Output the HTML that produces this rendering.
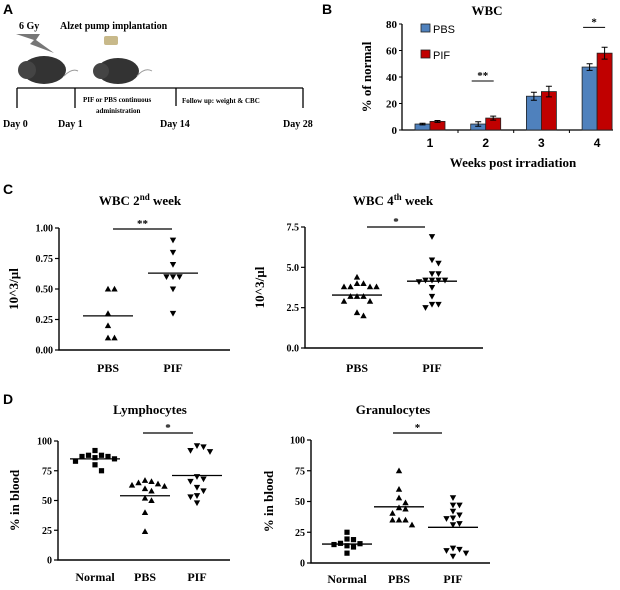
<!DOCTYPE html>
<html><head><meta charset="utf-8"><style>
body{margin:0;background:#fff}
svg{display:block}
.t{font-family:"Liberation Serif",serif;font-weight:bold;fill:#000}
.s{font-family:"Liberation Sans",sans-serif;fill:#000}
</style></head><body>
<svg id="fig" width="620" height="590" viewBox="0 0 620 590" xmlns="http://www.w3.org/2000/svg">
<g>
<text x="3" y="14" class="s" font-size="14" font-weight="bold">A</text>
<text x="19" y="29" class="t" font-size="10">6 Gy</text>
<polygon points="16,34 40,34 36,40 54,53 30,44 34,40" fill="#777"/>
<g><ellipse cx="44" cy="70" rx="22" ry="14" fill="#333"/><ellipse cx="27" cy="70" rx="9" ry="9" fill="#444"/><path d="M64 76 Q72 68 78 71" stroke="#999" fill="none"/></g>
<text x="60" y="29" class="t" font-size="10">Alzet pump implantation</text>
<rect x="104" y="36" width="14" height="9" rx="2" fill="#c8b98a"/>
<g><ellipse cx="118" cy="71" rx="21" ry="13" fill="#333"/><ellipse cx="101" cy="71" rx="8" ry="8" fill="#444"/><path d="M137 76 Q145 67 152 71" stroke="#999" fill="none"/></g>
<g stroke="#000" stroke-width="1.3" fill="none">
<line x1="17" y1="88" x2="303" y2="88"/><line x1="17" y1="88" x2="17" y2="108"/><line x1="75" y1="88" x2="75" y2="108"/><line x1="176" y1="88" x2="176" y2="106"/><line x1="303" y1="88" x2="303" y2="108"/></g>
<text x="83" y="102" class="t" font-size="7">PIF or PBS continuous</text>
<text x="96" y="113" class="t" font-size="7">administration</text>
<text x="182" y="103" class="t" font-size="7">Follow up: weight &amp; CBC</text>
<text x="3" y="127" class="t" font-size="10">Day 0</text>
<text x="58" y="127" class="t" font-size="10">Day 1</text>
<text x="160" y="127" class="t" font-size="10">Day 14</text>
<text x="283" y="127" class="t" font-size="10">Day 28</text>
</g>
<text x="322" y="14" class="s" font-size="14" font-weight="bold">B</text>
<text x="3" y="194" class="s" font-size="14" font-weight="bold">C</text>
<text x="3" y="404" class="s" font-size="14" font-weight="bold">D</text>
</svg>
<script>
const NS="http://www.w3.org/2000/svg";
const svg=document.getElementById('fig');
function mk(tag,attrs,parent,txt){const e=document.createElementNS(NS,tag);for(const k in attrs)e.setAttribute(k,attrs[k]);if(txt!==undefined)e.textContent=txt;(parent||svg).appendChild(e);return e;}

// ---- Panel B data ----
const bWeeks=["1","2","3","4"];
const bPBS=[4.5,4.5,25.5,47.5];
const bPIF=[6.5,9,29,58];
const bPBSerr=[0.6,1.7,3,2.5];
const bPIFerr=[0.7,1.5,4,4.5];
const bTicks=[0,20,40,60,80];
const bSig=[{w:1,t:"**",y:37},{w:3,t:"*",y:77.5}];

// ---- Panel C data ----
const c1Groups=["PBS","PIF"];
const c1PBS=[0.5,0.5,0.3,0.2,0.1,0.1];
const c1PIF=[0.9,0.8,0.7,0.6,0.6,0.6,0.5,0.3];
const c1Means=[0.28,0.63];
const c1Ticks=["0.00","0.25","0.50","0.75","1.00"];
const c2PBS=[4.4,4.0,4.0,3.8,3.8,3.8,3.8,3.2,3.2,3.2,2.9,2.9,2.2,2.0];
const c2PIF=[6.9,5.45,5.25,4.6,4.6,4.2,4.2,4.2,4.2,4.1,3.75,3.2,2.7,2.7,2.5];
const c2Means=[3.28,4.14];
const c2Ticks=["0.0","2.5","5.0","7.5"];

// ---- Panel D data ----
const dGroups=["Normal","PBS","PIF"];
const dLymN=[92,88,88,87,87,86,85,83,80,75];
const dLymP=[67,66,65,64,63,62,60,58,52,50,40,24];
const dLymF=[96,95,92,91,70,68,66,61,58,54,53,48];
const dLymMeans=[85,54,71];
const dGraN=[25,19.5,19,16,15.7,15,14,13,8];
const dGraP=[75,60,53,49,45,44,40.5,35,35,35,31];
const dGraF=[53,47,47,42,39,36.5,36,32,31,12,11,10,8,5.4];
const dGraMeans=[15.4,45.7,29];
const dTicks=[0,25,50,75,100];

// ===== Panel B =====
(function(){
  const x0=402,y0=130,yTop=24,vmax=80,xEnd=613;
  const Y=v=>y0-(v/vmax)*(y0-yTop);
  const centers=i=>430+i*55.7;
  const g=mk('g',{});
  
  
  const t=mk('text',{x:487,y:15,class:'t','font-size':13,'text-anchor':'middle'},g,'WBC');
  
  
  const ax=mk('path',{d:`M${x0} ${yTop} V${y0} H${xEnd}`,stroke:'#000','stroke-width':1.3,fill:'none'},g);
  
  
  bTicks.forEach(v=>{
    mk('line',{x1:x0-3,x2:x0,y1:Y(v),y2:Y(v),stroke:'#000'},g);
    const l=mk('text',{x:x0-5,y:Y(v)+4,class:'t','font-size':11,'text-anchor':'end'},g,v);
    
    
  });
  bWeeks.forEach((w,i)=>{
    const c=centers(i);
    mk('line',{x1:c+28,x2:c+28,y1:y0,y2:y0+3,stroke:'#000'},g);
    const l=mk('text',{x:c,y:y0+17,class:'s','font-size':12,'font-weight':'bold','text-anchor':'middle'},g,w);
    
    
    [[bPBS,bPBSerr,'#4f81bd',-15,'bar-pbs'],[bPIF,bPIFerr,'#c00000',0,'bar-pif']].forEach(([vals,errs,col,off,nm])=>{
      const r=mk('rect',{x:c+off,y:Y(vals[i]),width:15,height:y0-Y(vals[i]),fill:col,stroke:'#222','stroke-width':0.8},g);
      
      
      const cx=c+off+7.5,hi=Y(vals[i]+errs[i]),lo=Y(vals[i]-errs[i]);
      mk('path',{d:`M${cx} ${hi}V${lo}M${cx-3} ${hi}H${cx+3}M${cx-3} ${lo}H${cx+3}`,stroke:'#000','stroke-width':1,fill:'none'},g);
    });
  });
  bSig.forEach(s=>{
    const c=centers(s.w);
    mk('line',{x1:c-14,x2:c+8,y1:Y(s.y),y2:Y(s.y),stroke:'#000','stroke-width':1},g);
    const st=mk('text',{x:c-3,y:Y(s.y)-2,class:'t','font-size':11,'text-anchor':'middle'},g,s.t);
    
    
  });
  const yt=mk('text',{x:0,y:0,class:'t','font-size':13,'text-anchor':'middle',transform:`translate(371,77) rotate(-90)`},g,'% of normal');
  
  
  const xt=mk('text',{x:513,y:167,class:'t','font-size':13,'text-anchor':'middle'},g,'Weeks post irradiation');
  
  
  [['PBS','#4f81bd',29],['PIF','#c00000',55]].forEach(([n,col,y])=>{
    const le=mk('g',{},g);
    
    
    mk('rect',{x:421,y:y-5,width:9,height:8,fill:col,stroke:'#222','stroke-width':0.8},le);
    mk('text',{x:433,y:y+4,class:'s','font-size':11},le,n);
  });
})();

// ===== Dot plot helper =====
function marker(g,type,x,y){
  const s=3.2;let el;
  if(type==='sq') el=mk('rect',{x:x-2.6,y:y-2.6,width:5.2,height:5.2,fill:'#000'},g);
  else if(type==='up') el=mk('polygon',{points:`${x},${y-s} ${x-s},${y+s*0.8} ${x+s},${y+s*0.8}`,fill:'#000'},g);
  else el=mk('polygon',{points:`${x},${y+s} ${x-s},${y-s*0.8} ${x+s},${y-s*0.8}`,fill:'#000'},g);
  
  
}
function dot(cfg){
  const {name,title,tx,ty,ax,y0,yTop,vmax,xEnd,ticks,tickLabels,groups,centers,series,types,means,sig,ylab,ylx,labY}=cfg;
  const Y=v=>y0-(v/vmax)*(y0-yTop);
  const g=mk('g',{});
  
  
  const t=mk('text',{x:tx,y:ty,class:'t','font-size':13,'text-anchor':'middle'},g,title.main);
  if(title.sup){mk('tspan',{dy:-5,'font-size':9},t,title.sup);mk('tspan',{dy:5},t,title.rest);}
  
  
  const a=mk('path',{d:`M${ax} ${yTop} V${y0} H${xEnd}`,stroke:'#000','stroke-width':1.4,fill:'none'},g);
  
  
  ticks.forEach((v,i)=>{
    mk('line',{x1:ax-4,x2:ax,y1:Y(v),y2:Y(v),stroke:'#000','stroke-width':1.2},g);
    const l=mk('text',{x:ax-6,y:Y(v)+3.5,class:'t','font-size':10,'text-anchor':'end'},g,tickLabels[i]);
    
    
  });
  groups.forEach((gr,i)=>{
    const l=mk('text',{x:centers[i],y:labY,class:'t','font-size':12,'text-anchor':'middle'},g,gr);
    
    
    const placed=[];
    const offs=[0,6.5,-6.5,13,-13,19.5,-19.5,26,-26];
    series[i].forEach(v=>{
      const py=Y(v);
      let px=centers[i];
      for(const o of offs){
        const cx=centers[i]+o;
        if(!placed.some(p=>Math.abs(p[0]-cx)<6&&Math.abs(p[1]-py)<6)){px=cx;break;}
      }
      placed.push([px,py]);
      marker(g,types[i],px,py);
    });
    const m=mk('line',{x1:centers[i]-25,x2:centers[i]+25,y1:Y(means[i]),y2:Y(means[i]),stroke:'#000','stroke-width':1.3},g);
    
    
  });
  mk('line',{x1:sig.x1,x2:sig.x2,y1:sig.y,y2:sig.y,stroke:'#000','stroke-width':1.2},g);
  const st=mk('text',{x:(sig.x1+sig.x2)/2,y:sig.y-2,class:'t','font-size':11,'text-anchor':'middle'},g,sig.t);
  
  
  const yt=mk('text',{x:0,y:0,class:'t','font-size':13,'text-anchor':'middle',transform:`translate(${ylx},${(y0+yTop)/2}) rotate(-90)`},g,ylab);
  
  
}

dot({name:'wbc-week2-plot',title:{main:'WBC 2',sup:'nd',rest:' week'},tx:140,ty:205,ax:59,y0:350,yTop:228,vmax:1,xEnd:230,
  ticks:[0,0.25,0.5,0.75,1],tickLabels:c1Ticks,groups:c1Groups,centers:[108,173],series:[c1PBS,c1PIF],types:['up','down'],
  means:c1Means,sig:{x1:113,x2:172,y:229,t:'**'},ylab:'10^3/µl',ylx:18,labY:372});
dot({name:'wbc-week4-plot',title:{main:'WBC 4',sup:'th',rest:'  week'},tx:393,ty:205,ax:305,y0:348,yTop:227,vmax:7.5,xEnd:483,
  ticks:[0,2.5,5,7.5],tickLabels:c2Ticks,groups:c1Groups,centers:[357,432],series:[c2PBS,c2PIF],types:['up','down'],
  means:c2Means,sig:{x1:367,x2:425,y:227,t:'*'},ylab:'10^3/µl',ylx:264,labY:372});
dot({name:'lymphocytes-plot',title:{main:'Lymphocytes'},tx:150,ty:414,ax:58,y0:560,yTop:441,vmax:100,xEnd:230,
  ticks:dTicks,tickLabels:dTicks,groups:dGroups,centers:[95,145,197],series:[dLymN,dLymP,dLymF],types:['sq','up','down'],
  means:dLymMeans,sig:{x1:143,x2:193,y:433,t:'*'},ylab:'% in blood',ylx:19,labY:581});
dot({name:'granulocytes-plot',title:{main:'Granulocytes'},tx:393,ty:414,ax:311,y0:563,yTop:440,vmax:100,xEnd:490,
  ticks:dTicks,tickLabels:dTicks,groups:dGroups,centers:[347,399,453],series:[dGraN,dGraP,dGraF],types:['sq','up','down'],
  means:dGraMeans,sig:{x1:393,x2:442,y:433,t:'*'},ylab:'% in blood',ylx:273,labY:583});
</script>
</body></html>
